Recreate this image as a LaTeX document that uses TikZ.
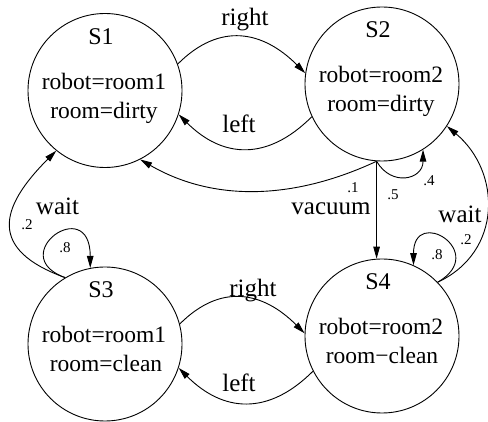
\documentclass[tikz,border=0pt]{standalone}
\usepackage{fontspec}
\setmainfont{Liberation Serif}
\usetikzlibrary{arrows.meta}
\begin{document}
\begin{tikzpicture}[x=1pt,y=1pt,
  state/.style={circle,draw,line width=0.9pt,minimum size=154pt,inner sep=0pt},
  sname/.style={anchor=base,inner sep=0pt,font=\fontsize{24}{28}\selectfont},
  stext/.style={anchor=base,inner sep=0pt,font=\fontsize{23.5}{28}\selectfont},
  act/.style={anchor=base,inner sep=0pt,font=\fontsize{25}{30}\selectfont},
  prob/.style={anchor=base,inner sep=0pt,font=\fontsize{15}{18}\selectfont},
  edge/.style={line width=0.9pt,-{Triangle[length=12pt,width=6.5pt]}}]
\useasboundingbox (0,0) rectangle (488,-422);

% states
\node[state] (s1) at (105,-90.5) {};
\node[state] (s2) at (382,-84) {};
\node[state] (s3) at (105,-344) {};
\node[state] (s4) at (382,-336) {};

% state contents
\node[sname,xshift=-4pt,yshift=46pt] (s1name) at (s1.center) {S1};
\node[stext,xshift=-1pt,yshift=1pt] (s1a) at (s1.center) {robot=room1};
\node[stext,xshift=-1pt,yshift=-28pt] (s1b) at (s1.center) {room=dirty};
\node[sname,xshift=-4pt,yshift=46pt] (s2name) at (s2.center) {S2};
\node[stext,xshift=-1pt,yshift=1pt] (s2a) at (s2.center) {robot=room2};
\node[stext,xshift=-1pt,yshift=-28pt] (s2b) at (s2.center) {room=dirty};
\node[sname,xshift=-4pt,yshift=46pt] (s3name) at (s3.center) {S3};
\node[stext,xshift=-1pt,yshift=1pt] (s3a) at (s3.center) {robot=room1};
\node[stext,xshift=1pt,yshift=-28pt] (s3b) at (s3.center) {room=clean};
\node[sname,xshift=-4pt,yshift=46pt] (s4name) at (s4.center) {S4};
\node[stext,xshift=-1pt,yshift=1pt] (s4a) at (s4.center) {robot=room2};
\node[stext,xshift=0pt,yshift=-28pt] (s4b) at (s4.center) {room−clean};

% transitions between the rooms
\draw[edge] (s1.20) to[out=45,in=135,looseness=1.2] (s2.172);
\draw[edge] (s2.-155) to[out=-135,in=-45,looseness=1.2] (s1.-18);
\draw[edge] (s3.15) to[out=45,in=135,looseness=1.2] (s4.178);
\draw[edge] (s4.-153) to[out=-135,in=-45,looseness=1.2] (s3.-18);

% vacuum outcomes
\draw[edge] (s2.-94) to[out=205,in=-30,looseness=0.95] (s1.-63);
\draw[edge] (s2.-94) to[out=-60,in=-90,looseness=1.6] (s2.-58);
\draw[edge] (s2.-94) -- (s4.94);

% wait outcomes
\draw[edge] (s4.44) to[out=25,in=-40,looseness=1.17] (s2.-33);
\draw[edge] (s4.44) to[out=30,in=90,out distance=60pt,in distance=60pt] (s4.66);
\draw[edge] (s3.121) to[out=160,in=-135,looseness=1.64] (s1.-129);
\draw[edge] (s3.121) to[out=160,in=90,out distance=65pt,in distance=75pt] (s3.101);

% action labels
\node[act] (lr1) at (245,-26) {right};
\node[act] (ll1) at (239,-133) {left};
\node[act] (lr2) at (253,-297) {right};
\node[act] (ll2) at (239,-392) {left};
\node[act] (lvac) at (331,-215) {vacuum};
\node[act] (lw4) at (460,-223) {wait};
\node[act] (lw3) at (57.5,-215) {wait};

% probabilities
\node[prob] (p1) at (353,-193) {.1};
\node[prob] (p5) at (393,-200) {.5};
\node[prob] (p4) at (429,-186) {.4};
\node[prob] (p8r) at (437,-260) {.8};
\node[prob] (p2r) at (466,-245) {.2};
\node[prob] (p2l) at (27,-230) {.2};
\node[prob] (p8l) at (65,-253) {.8};
\end{tikzpicture}
\end{document}
